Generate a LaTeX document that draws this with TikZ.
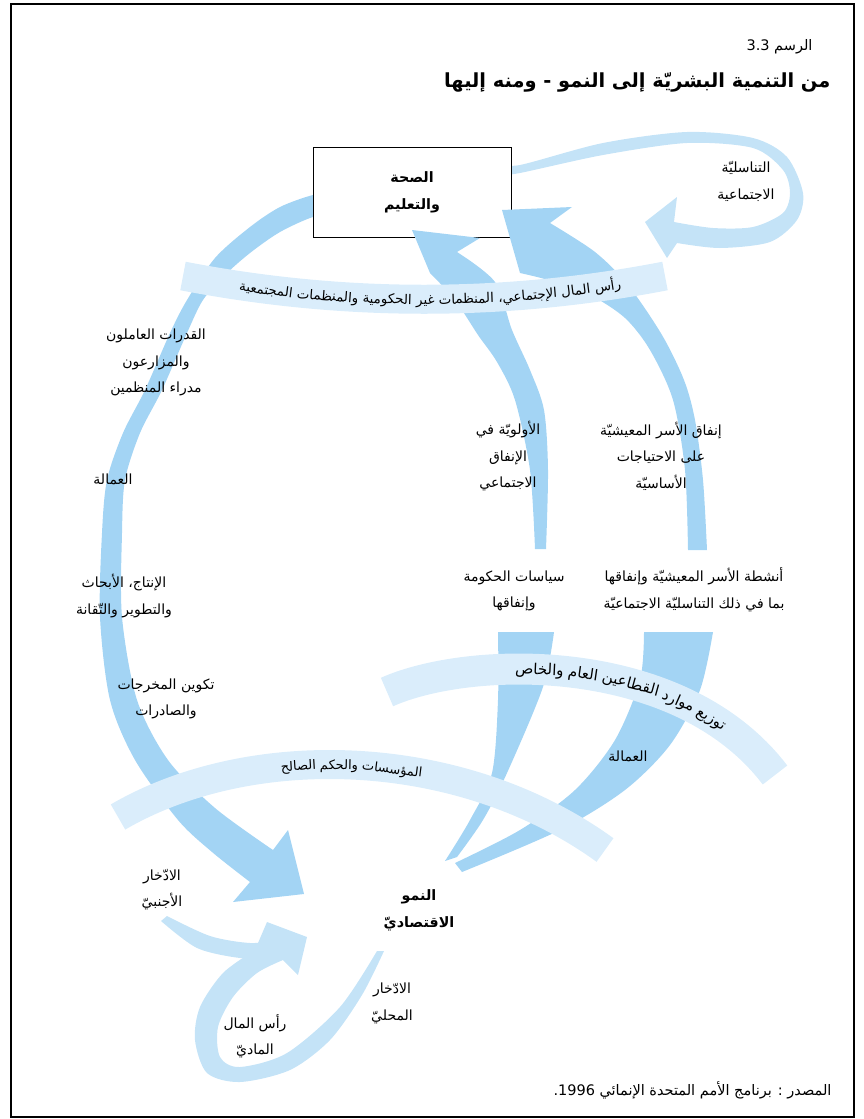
\documentclass[tikz,border=0pt]{standalone}
\usepackage{fontspec}
\usetikzlibrary{decorations.text}
\newfontfamily\arabicfont[Script=Arabic]{DejaVu Sans}
\TeXXeTstate=1
\definecolor{FlowBlue}{HTML}{A3D4F4}
\definecolor{BandBlue}{HTML}{DAEDFB}
\definecolor{LoopBlue}{HTML}{C4E3F7}
\newcommand{\ar}[1]{\beginR#1\endR}

\begin{document}
\begin{tikzpicture}[x=1pt, y=-1pt,
    ribbon/.style={fill=FlowBlue},
    loopflow/.style={fill=LoopBlue},
    bandpath/.style={draw=BandBlue, line width=29pt},
    lbl/.style={font=\arabicfont\fontsize{14}{26.5}\selectfont, align=center, inner sep=0pt},
    boldlbl/.style={font=\arabicfont\bfseries\fontsize{14.3}{27}\selectfont, align=center, inner sep=0pt},
  ]
    \useasboundingbox (0,0) rectangle (864,1119);
    \draw[line width=1.6pt] (11,4) rectangle (854,1117);

    % heading
    \node[font=\arabicfont\fontsize{14.5}{17}\selectfont, anchor=east] (fignum) at (816,47) {\ar{الرسم \beginL3.3\endL}};
    \node[font=\arabicfont\bfseries\fontsize{19.4}{23}\selectfont, anchor=east] (title) at (834,82)
      {\ar{من التنمية البشريّة إلى النمو - ومنه إليها}};

    % big arc: health and education -> growth
    \fill[ribbon] plot[smooth] coordinates {(330,195) (313,195) (280,207) (250,227) (215,258) (187,300) (170,333)
      (145,390) (123,433) (107,480) (102,533) (100,617) (110,700) (135,760) (178,820) (212,852) (250,882)}
      -- (233,902) -- (304,894) -- (288,830) -- (273,850)
      -- plot[smooth] coordinates {(273,850) (215,808) (168,760) (137,700) (122,617) (122,533) (125,480)
      (140,433) (162,390) (187,333) (203,300) (225,275) (250,253) (280,232) (313,217) (330,217)} -- cycle;

    % loop: social reproduction
    \fill[loopflow] plot[smooth] coordinates {(500,163) (520,165) (603,143) (687,132) (753,138) (787,157) (803,193)
      (797,220) (770,242) (720,248) (677,243)}
      -- (667,258) -- (645,222) -- (677,197) -- (674,222)
      -- plot[smooth] coordinates {(674,222) (713,228) (753,227) (783,213) (790,193) (783,170) (753,148) (687,143)
      (603,155) (520,173) (500,175)} -- cycle;

    % box
    \node[draw, fill=white, line width=1pt, minimum width=198pt, minimum height=90pt, boldlbl] (health)
      at (412,192) {\ar{الصحة}\\\ar{والتعليم}};

    % upper flows into the box
    \fill[ribbon] plot[smooth] coordinates {(535,549) (530,470) (515,400) (497,362) (478,335) (455,300) (430,273)}
      -- (412,230) -- (480,238) -- (457,252)
      -- plot[smooth] coordinates {(457,252) (495,282) (512,330) (530,370) (544,410) (548,470) (546,549)} -- cycle;
    \fill[ribbon] plot[smooth] coordinates {(688,550) (685,470) (673,400) (650,350) (625,318) (590,295) (548,280) (520,273)}
      -- (502,210) -- (572,207) -- (550,223)
      -- plot[smooth] coordinates {(550,223) (595,252) (628,285) (662,335) (684,380) (695,420) (703,480) (707,550)} -- cycle;

    % lower flows out of growth
    \fill[ribbon] plot[smooth] coordinates {(498,632) (498,700) (492,773) (470,820) (445,861)}
      -- plot[smooth] coordinates {(457,857) (483,820) (507,773) (543,687) (554,632)} -- cycle;
    \fill[ribbon] plot[smooth] coordinates {(644,632) (640,680) (615,740) (575,790) (520,830) (455,863)}
      -- plot[smooth] coordinates {(462,872) (560,830) (625,790) (670,745) (700,690) (713,632)} -- cycle;

    % savings and physical capital
    \fill[loopflow] plot[smooth] coordinates {(167,916) (210,936) (250,943) (280,940)}
      -- plot[smooth] coordinates {(270,957) (240,958) (197,948) (161,921)} -- cycle;
    \fill[loopflow] plot[smooth] coordinates {(384,951) (362,995) (330,1040) (290,1070) (240,1082) (207,1073)
      (195,1040) (200,1007) (223,973) (255,950)}
      -- (267,922) -- (307,937) -- (298,975) -- (283,960)
      -- plot[smooth] coordinates {(283,960) (257,973) (233,997) (218,1027) (220,1057) (240,1067) (287,1053)
      (340,1007) (377,951)} -- cycle;

    % bands
    \draw[bandpath] (183,276) .. controls (344,307) and (504,307) .. (665,276);
    \draw[bandpath, line width=31pt] (387,692) .. controls (470,655) and (680,650) .. (775,775);
    \draw[bandpath] (118,817) .. controls (250,740) and (460,745) .. (605,850);

    \path[decorate, decoration={text along path, text align={align=right, right indent=45pt}, raise=-5pt,
      text={|\arabicfont\fontsize{13.4}{15}\selectfont|{المجتمعية} {والمنظمات} {الحكومية} {غير} {المنظمات} {الإجتماعي،} {المال} {رأس}}}]
      (183,276) .. controls (344,307) and (504,307) .. (665,276);
    \path[decorate, decoration={text along path, text align={align=right, right indent=70pt}, raise=-5pt,
      text={|\arabicfont\fontsize{15}{17}\selectfont|{والخاص} {العام} {القطاعين} {موارد} {توزيع}}}]
      (387,692) .. controls (470,655) and (680,650) .. (775,775);
    \path[decorate, decoration={text along path, text align={align=right, right indent=200pt}, raise=-5pt,
      text={|\arabicfont\fontsize{13}{15}\selectfont|{الصالح} {والحكم} {المؤسسات}}}]
      (118,817) .. controls (250,740) and (460,745) .. (605,850);

    % labels
    \node[lbl] (repro) at (746,181.5) {\ar{التناسليّة}\\\ar{الاجتماعية}};
    \node[lbl] (capab) at (156,362.5) {\ar{القدرات العاملون}\\\ar{والمزارعون}\\\ar{مدراء المنظمين}};
    \node[lbl] (labourl) at (113,479) {\ar{العمالة}};
    \node[lbl] (research) at (124,596) {\ar{الإنتاج، الأبحاث}\\\ar{والتطوير والتّقانة}};
    \node[lbl] (output) at (166,699) {\ar{تكوين المخرجات}\\\ar{والصادرات}};
    \node[lbl] (priority) at (508,456.5) {\ar{الأولويّة في}\\\ar{الإنفاق}\\\ar{الاجتماعي}};
    \node[lbl] (spending) at (661,456) {\ar{إنفاق الأسر المعيشيّة}\\\ar{على الاحتياجات}\\\ar{الأساسيّة}};
    \node[lbl] (policy) at (514,591) {\ar{سياسات الحكومة}\\\ar{وإنفاقها}};
    \node[lbl] (household) at (694,589.5) {\ar{أنشطة الأسر المعيشيّة وإنفاقها}\\\ar{بما في ذلك التناسليّة الاجتماعيّة}};
    \node[lbl] (labourr) at (628,756) {\ar{العمالة}};
    \node[boldlbl] (growth) at (419,910) {\ar{النمو}\\\ar{الاقتصاديّ}};
    \node[lbl] (foreign) at (162,890) {\ar{الادّخار}\\\ar{الأجنبيّ}};
    \node[lbl] (domestic) at (392,1003.5) {\ar{الادّخار}\\\ar{المحليّ}};
    \node[lbl] (capital) at (255,1036) {\ar{رأس المال}\\\ar{الماديّ}};

    % source
    \node[font=\arabicfont\fontsize{14.5}{17}\selectfont, anchor=east] (source) at (835,1090)
      {\ar{المصدر : برنامج الأمم المتحدة الإنمائي \beginL1996\endL.}};
\end{tikzpicture}
\end{document}
